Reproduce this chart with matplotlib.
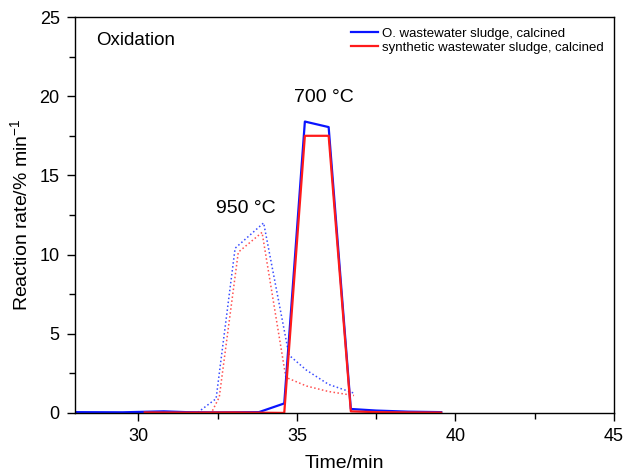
import matplotlib
matplotlib.use("Agg")
from matplotlib import pyplot
from matplotlib.ticker import MultipleLocator

pyplot.rcParams['font.family'] = ['Liberation Sans', 'DejaVu Sans']
pyplot.rcParams['mathtext.fontset'] = 'custom'
pyplot.rcParams['mathtext.rm'] = 'Liberation Sans'
pyplot.rcParams['mathtext.it'] = 'Liberation Sans'

# 700 °C, solid lines
temps_o_700 = [28.0, 29.5, 30.8, 31.5, 32.5, 33.8, 34.6, 35.25, 36.0, 36.7,
               37.5, 38.5, 39.55]
vitesse_o_700 = [0.05, 0.04, 0.1, 0.05, 0.04, 0.05, 0.6, 18.4, 18.05, 0.25,
                 0.15, 0.08, 0.05]
temps_s_700 = [30.2, 31.5, 33.0, 34.6, 35.25, 36.0, 36.7, 37.5, 38.5, 39.55]
vitesse_s_700 = [0.03, 0.02, 0.03, 0.0, 17.5, 17.5, 0.1, 0.05, 0.03, 0.02]

# 950 °C, dotted lines
temps_o_950 = [29.5, 31.0, 31.85, 32.45, 33.05, 33.95, 34.75, 35.3, 36.0,
               36.8]
vitesse_o_950 = [0.0, 0.0, 0.0, 0.9, 10.4, 12.0, 3.65, 2.7, 1.8, 1.25]
temps_s_950 = [30.5, 31.5, 32.3, 32.55, 33.15, 33.9, 34.65, 35.3, 36.0,
               36.8]
vitesse_s_950 = [0.0, 0.0, 0.0, 1.0, 10.15, 11.4, 2.25, 1.7, 1.35, 1.1]

fig = pyplot.figure(figsize=(6.25, 4.73), dpi=100)
ax = fig.add_axes([0.12, 0.127, 0.8624, 0.837])

ax.plot(temps_o_950, vitesse_o_950, color='#3a4dff', lw=1.1, ls=(0, (1, 1.6)))
ax.plot(temps_s_950, vitesse_s_950, color='#ff5050', lw=1.1, ls=(0, (1, 1.6)))
ax.plot(temps_o_700, vitesse_o_700, color='#0a14ff', lw=1.6,
        label='O. wastewater sludge, calcined')
ax.plot(temps_s_700, vitesse_s_700, color='#ff1a1a', lw=1.6,
        label='synthetic wastewater sludge, calcined')

ax.set_xlim(28, 45)
ax.set_ylim(0, 25)
ax.xaxis.set_major_locator(MultipleLocator(5))
ax.xaxis.set_minor_locator(MultipleLocator(2.5))
ax.yaxis.set_major_locator(MultipleLocator(5))
ax.yaxis.set_minor_locator(MultipleLocator(2.5))
ax.tick_params(which='both', direction='out', top=False, right=False,
               labelsize=13, width=1)
ax.tick_params(which='major', length=6, pad=5)
ax.tick_params(which='minor', length=4)
for s in ax.spines.values():
    s.set_linewidth(1.0)

ax.set_xlabel('Time/min', fontsize=14, labelpad=7)
ax.set_ylabel('Reaction rate/% min$^{-1}$', fontsize=14, labelpad=6)

ax.text(0.04, 0.94, 'Oxidation', transform=ax.transAxes, fontsize=13.5,
        va='center', ha='left')
ax.text(35.85, 19.9, '700 °C', fontsize=14, ha='center', va='center')
ax.text(33.4, 12.9, '950 °C', fontsize=14, ha='center', va='center')

ax.legend(loc='upper right', frameon=False, fontsize=9.5, handlelength=2.0,
          handletextpad=0.3, labelspacing=0.15, borderaxespad=0.4,
          borderpad=0.4)

fig.savefig('out.png', dpi=100)
pyplot.close()
